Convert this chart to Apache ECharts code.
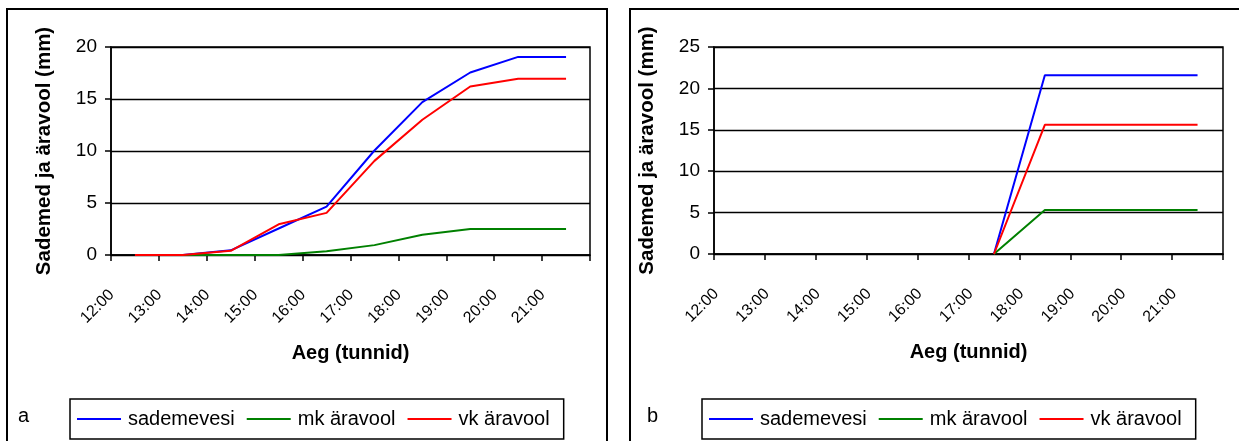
<!DOCTYPE html>
<html>
<head>
<meta charset="utf-8">
<script src="https://cdn.jsdelivr.net/npm/echarts@6/dist/echarts.min.js"></script>
<style>
  html, body { margin: 0; padding: 0; background: #fff; }
  #main { width: 1239px; height: 441px; }
</style>
</head>
<body>
<div id="main"></div>
<script>
var chartDom = document.getElementById('main');
var myChart = echarts.init(chartDom);
var option;

var hours = ['12:00', '13:00', '14:00', '15:00', '16:00', '17:00', '18:00', '19:00', '20:00', '21:00'];

// paneel a
var sadeA = [0, 0, 0.45, 2.55, 4.65, 10.05, 14.7, 17.55, 19.05, 19.05];
var mkA = [0, 0, 0, 0, 0.35, 0.95, 1.95, 2.5, 2.5, 2.5];
var vkA = [0, 0, 0.4, 2.95, 4.05, 9.05, 13.0, 16.2, 16.95, 16.95];

// paneel b
var sadeB = [null, null, null, null, null, 0, 21.6, 21.6, 21.6, 21.6];
var mkB = [null, null, null, null, null, 0, 5.3, 5.3, 5.3, 5.3];
var vkB = [null, null, null, null, null, 0, 15.6, 15.6, 15.6, 15.6];

var names = ['sademevesi', 'mk äravool', 'vk äravool'];
var colors = ['#0000ff', '#008000', '#ff0000'];

var font = 'Liberation Sans, Arial, sans-serif';

function xAxisFor(i) {
    return {
        type: 'category',
        gridIndex: i,
        data: hours,
        boundaryGap: true,
        name: 'Aeg (tunnid)',
        nameLocation: 'middle',
        nameGap: 88,
        nameTextStyle: { fontFamily: font, fontSize: 20, fontWeight: 'bold', color: '#000' },
        axisLine: { lineStyle: { color: '#000', width: 1.5 } },
        axisTick: { show: true, length: 6, lineStyle: { color: '#000', width: 1.5 } },
        axisLabel: {
            interval: 0,
            rotate: 45,
            margin: 14,
            padding: [0, 33, 0, 0],
            fontFamily: font,
            fontSize: 16,
            letterSpacing: -1,
            color: '#000'
        }
    };
}

function yAxisFor(i, max) {
    return {
        type: 'value',
        gridIndex: i,
        min: 0,
        max: max,
        interval: 5,
        name: 'Sademed ja äravool (mm)',
        nameLocation: 'middle',
        nameRotate: 90,
        nameGap: 56,
        nameTextStyle: { fontFamily: font, fontSize: 20.5, fontWeight: 'bold', color: '#000' },
        axisLine: { show: true, lineStyle: { color: '#000', width: 1.5 } },
        axisTick: { show: true, length: 6, lineStyle: { color: '#000', width: 1.5 } },
        axisLabel: { margin: 14, fontFamily: font, fontSize: 19, color: '#000' },
        splitLine: { lineStyle: { color: '#000', width: 1.3 } }
    };
}

function lineSeries(name, data, idx, color) {
    return {
        name: name,
        type: 'line',
        xAxisIndex: idx,
        yAxisIndex: idx,
        data: data,
        symbol: 'none',
        connectNulls: false,
        lineStyle: { color: color, width: 2 },
        itemStyle: { color: color }
    };
}

function legendFor(left) {
    return {
        left: left,
        top: 399,
        orient: 'horizontal',
        data: names,
        icon: 'rect',
        itemWidth: 44,
        itemHeight: 2,
        itemGap: 12,
        padding: [10, 14, 10, 7],
        borderColor: '#000',
        borderWidth: 1.5,
        textStyle: { fontFamily: font, fontSize: 20, color: '#000', padding: [0, 0, 0, 2] }
    };
}

option = {
    animation: false,
    backgroundColor: '#fff',
    grid: [
        { left: 111, top: 47, width: 479, height: 208, show: true, borderColor: '#000', borderWidth: 1.5 },
        { left: 714, top: 47, width: 509, height: 207, show: true, borderColor: '#000', borderWidth: 1.5 }
    ],
    xAxis: [xAxisFor(0), xAxisFor(1)],
    yAxis: [yAxisFor(0, 20), yAxisFor(1, 25)],
    legend: [legendFor(70), legendFor(702)],
    graphic: [
        { type: 'rect', shape: { x: 7, y: 9, width: 600, height: 445 }, style: { fill: 'none', stroke: '#000', lineWidth: 2 } },
        { type: 'rect', shape: { x: 630, y: 9, width: 620, height: 445 }, style: { fill: 'none', stroke: '#000', lineWidth: 2 } },
        { type: 'text', left: 18, top: 406, style: { text: 'a', font: '20px Liberation Sans', fill: '#000' } },
        { type: 'text', left: 647, top: 406, style: { text: 'b', font: '20px Liberation Sans', fill: '#000' } }
    ],
    series: [
        lineSeries(names[0], sadeA, 0, colors[0]),
        lineSeries(names[1], mkA, 0, colors[1]),
        lineSeries(names[2], vkA, 0, colors[2]),
        lineSeries(names[0], sadeB, 1, colors[0]),
        lineSeries(names[1], mkB, 1, colors[1]),
        lineSeries(names[2], vkB, 1, colors[2])
    ]
};

option && myChart.setOption(option);
</script>
</body>
</html>
